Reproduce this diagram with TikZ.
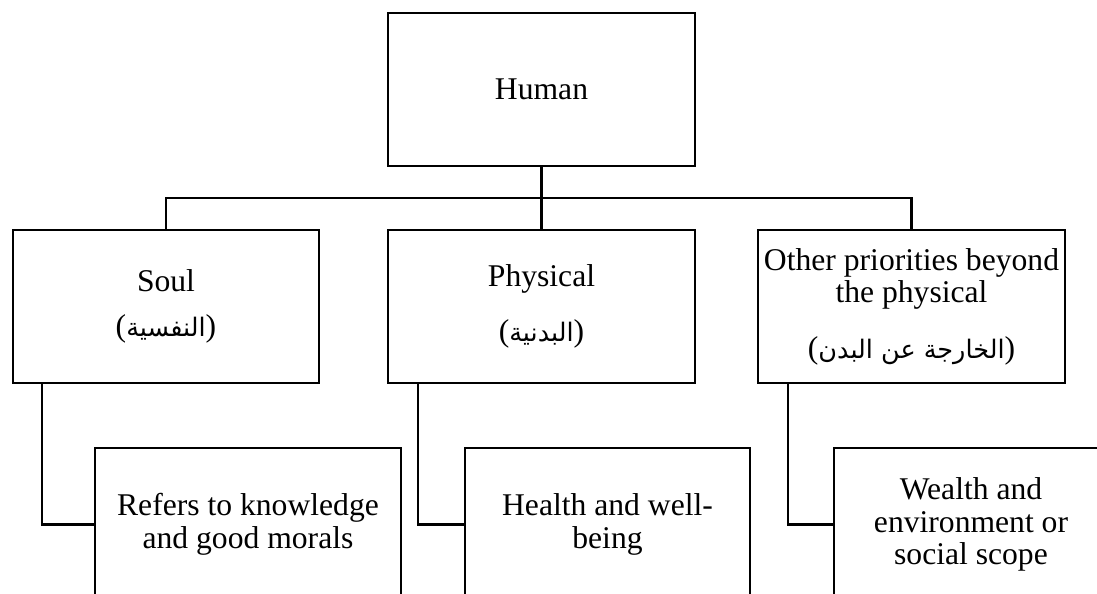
\documentclass[tikz,border=0pt]{standalone}
\usepackage{fontspec}
\setmainfont{Liberation Serif}
\newfontfamily\arabicfont[Script=Arabic]{DejaVu Sans}
\TeXXeTstate=1
\usetikzlibrary{calc}

\tikzset{
  box/.style={draw, line width=1.4pt, align=center, inner sep=0pt,
    minimum width=6.14cm, minimum height=3.06cm},
  link/.style={line width=1.4pt},
}
\newcommand{\arlabel}[1]{({\arabicfont\fontsize{14.5}{15}\selectfont\beginR #1\endR})}

\begin{document}
\begin{tikzpicture}[x=0.02cm, y=-0.02cm, font=\fontsize{18}{18.5}\selectfont]
\useasboundingbox (0,0) rectangle (1097,594);
\clip (0,0) rectangle (1097,594);
% top level
\node[box] (human) at (541.5,89.5) {Human};
% second level
\node[box, minimum width=6.12cm] (soul) at (166,306.5) {Soul\\[0.26cm]\arlabel{النفسية}};
\node[box] (phys) at (541.5,306.5) {Physical\\[0.46cm]\arlabel{البدنية}};
\node[box] (other) at (911.5,306.5) {Other priorities beyond\\the physical\\[0.46cm]\arlabel{الخارجة عن البدن}};
% third level (cut at the bottom)
\node[box, minimum width=6.12cm] (soulsub) at (248,524.5) {Refers to knowledge\\and good morals};
\node[box, minimum width=5.7cm] (physsub) at (607.5,524.5) {Health and well-\\being};
\node[box, minimum width=5.48cm] (othersub) at (971,524.5) {Wealth and\\environment or\\social scope};
% connectors
\coordinate (bus) at (541.5,198);
\draw[link] (human.south) -- (phys.north);
\draw[link] (soul.north) |- (bus) -| (other.north);
\draw[link] ($(soul.south west)+(30,0)$) |- (soulsub.west);
\draw[link] ($(phys.south west)+(31,0)$) |- (physsub.west);
\draw[link] ($(other.south west)+(31,0)$) |- (othersub.west);
\end{tikzpicture}
\end{document}
